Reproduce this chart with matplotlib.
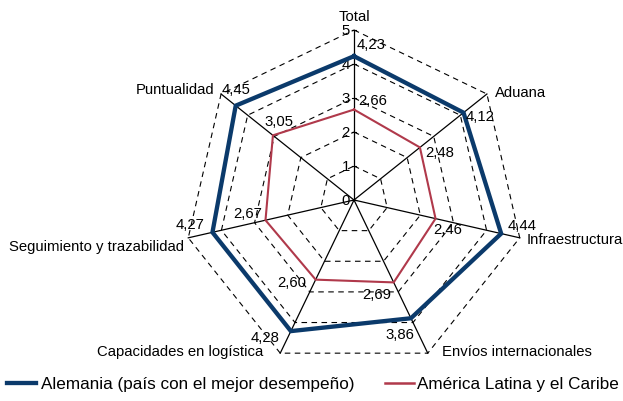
import numpy as np
import matplotlib
matplotlib.use("Agg")
import matplotlib.pyplot as plt
from matplotlib.lines import Line2D

plt.rcParams['font.family'] = ['Liberation Sans', 'DejaVu Sans']

categories = ["Total", "Aduana", "Infraestructura", "Envíos internacionales",
              "Capacidades en logística", "Seguimiento y trazabilidad", "Puntualidad"]
alemania = [4.23, 4.12, 4.44, 3.86, 4.28, 4.27, 4.45]
alc = [2.66, 2.48, 2.46, 2.69, 2.60, 2.67, 3.05]
radial_ticks = [0, 1, 2, 3, 4, 5]
series_names = ["Alemania (país con el mejor desempeño)", "América Latina y el Caribe"]

col_de = "#0b3a6b"
col_lac = "#b0394b"
FS = 10.7

n = len(categories)
ang = np.pi / 2 - np.arange(n) * 2 * np.pi / n

def xy(vals):
    v = np.asarray(vals, float)
    x = v * np.cos(ang)
    y = v * np.sin(ang)
    return np.append(x, x[0]), np.append(y, y[0])

fig = plt.figure(figsize=(6.23, 4.02), dpi=100)
ax = fig.add_axes([0, 0, 1, 1])
ax.set_xlim(-354 / 34, (623 - 354) / 34)
ax.set_ylim(-201 / 34, 201 / 34)
ax.axis('off')

# grid
for r in radial_ticks[1:]:
    gx, gy = xy([r] * n)
    ax.plot(gx, gy, color='black', lw=0.8, ls=(0, (5, 4)), zorder=1)
mx = max(radial_ticks)
for a in ang:
    ax.plot([0, mx * np.cos(a)], [0, mx * np.sin(a)], color='black', lw=0.9, zorder=1)

# radial tick labels
for r in radial_ticks:
    ax.plot([-0.07, 0.07], [r, r], color='black', lw=0.8, zorder=1)
    ax.text(-0.12, r, str(r), ha='right', va='center', fontsize=FS)

# series
x1, y1 = xy(alemania)
ax.plot(x1, y1, color=col_de, lw=3.1, solid_joinstyle='miter', zorder=3)
x2, y2 = xy(alc)
ax.plot(x2, y2, color=col_lac, lw=1.5, solid_joinstyle='miter', zorder=3)

def fmt(v):
    return f"{v:.2f}".replace('.', ',')

# value label offsets (pixels) and alignments
off_de = [((3, 12), 'left'), ((2, -3), 'left'), ((6, 9), 'left'),
          ((3, -16), 'right'), ((-11, -6), 'right'),
          ((-8, 8), 'right'), ((-14, 17), 'left')]
off_lac = [((4, 10), 'left'), ((5, -5), 'left'), ((-2, -10), 'left'),
           ((-2, -12), 'right'), ((-9, -2), 'right'),
           ((-3, 7), 'right'), ((-8, 14), 'left')]
for vals, offs in ((alemania, off_de), (alc, off_lac)):
    for v, a, (o, ha) in zip(vals, ang, offs):
        ax.annotate(fmt(v), (v * np.cos(a), v * np.sin(a)), xytext=o,
                    textcoords='offset pixels', ha=ha, va='center', fontsize=FS, zorder=4)

# category labels
cat_pos = [((0, 7), 'center', 'bottom'), ((8, 2), 'left', 'center'), ((7, -1), 'left', 'center'),
           ((14, 2), 'left', 'center'), ((-17, 2), 'right', 'center'),
           ((-4, -8), 'right', 'center'), ((-7, 5), 'right', 'center')]
for c, a, (o, ha, va) in zip(categories, ang, cat_pos):
    ax.annotate(c, (mx * np.cos(a), mx * np.sin(a)), xytext=o, textcoords='offset pixels',
                ha=ha, va=va, fontsize=FS)

LFS = 12.3
h1 = Line2D([], [], color=col_de, lw=3.1)
h2 = Line2D([], [], color=col_lac, lw=1.8)
yl = 1 - 385 / 402
leg1 = ax.legend([h1], [series_names[0]], loc='center left', bbox_to_anchor=(7 / 623, yl),
                 frameon=False, fontsize=LFS, handlelength=1.7, handletextpad=0.3,
                 borderaxespad=0, borderpad=0)
ax.add_artist(leg1)
ax.legend([h2], [series_names[1]], loc='center left', bbox_to_anchor=(385 / 623, yl),
          frameon=False, fontsize=LFS, handlelength=1.7, handletextpad=0.2,
          borderaxespad=0, borderpad=0)

fig.savefig("out.png", dpi=100)
